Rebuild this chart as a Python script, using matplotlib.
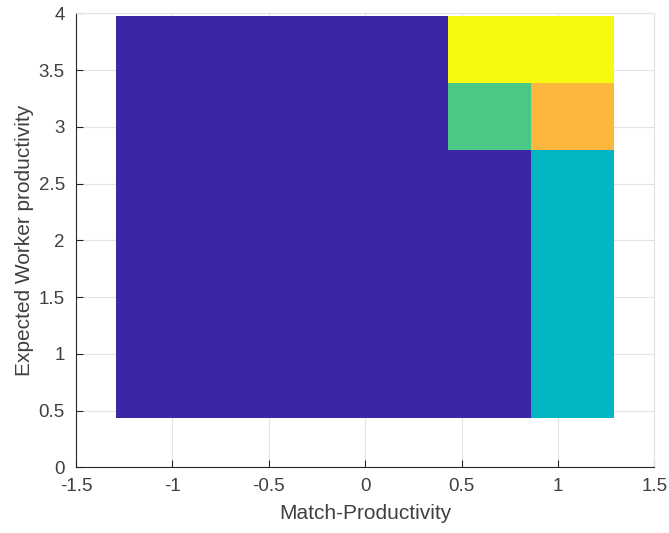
import numpy as np
import matplotlib
matplotlib.use("Agg")
import matplotlib.pyplot as plt
from matplotlib.colors import ListedColormap, BoundaryNorm

plt.rcParams['font.family'] = ['Liberation Sans', 'DejaVu Sans']

# cell edges (image grid)
x_edges = [-1.29, -0.86, -0.43, 0.0, 0.43, 0.86, 1.29]
y_edges = [0.437, 1.027, 1.617, 2.207, 2.797, 3.387, 3.977]

# region codes: 0 blue, 1 cyan, 2 green, 3 orange, 4 yellow (rows bottom->top)
regions = [
    [0, 0, 0, 0, 0, 1],
    [0, 0, 0, 0, 0, 1],
    [0, 0, 0, 0, 0, 1],
    [0, 0, 0, 0, 0, 1],
    [0, 0, 0, 0, 2, 3],
    [0, 0, 0, 0, 4, 4],
]
region_colors = ['#3c26a6', '#00b6c2', '#4ac886', '#fcb83c', '#f8f911']

x_ticks = [-1.5, -1, -0.5, 0, 0.5, 1, 1.5]
x_tick_labels = ['-1.5', '-1', '-0.5', '0', '0.5', '1', '1.5']
y_ticks = [0, 0.5, 1, 1.5, 2, 2.5, 3, 3.5, 4]
y_tick_labels = ['0', '0.5', '1', '1.5', '2', '2.5', '3', '3.5', '4']

fig = plt.figure(figsize=(6.69, 5.33), dpi=100)
ax = fig.add_axes([0.1136, 0.1233, 0.978 - 0.1136, 0.975 - 0.1233])

cmap = ListedColormap(region_colors)
norm = BoundaryNorm(np.arange(-0.5, len(region_colors) + 0.5, 1), cmap.N)
ax.pcolormesh(x_edges, y_edges, np.array(regions), cmap=cmap, norm=norm,
              shading='flat', zorder=2, edgecolors='none', antialiased=False)

ax.set_xlim(-1.5, 1.5)
ax.set_ylim(0, 4)
ax.set_xticks(x_ticks)
ax.set_xticklabels(x_tick_labels)
ax.set_yticks(y_ticks)
ax.set_yticklabels(y_tick_labels)

ax.grid(True, color='#e3e3e3', linewidth=0.8, zorder=0)
ax.set_axisbelow(True)

for s in ['left', 'bottom']:
    ax.spines[s].set_color('#262626')
    ax.spines[s].set_linewidth(0.8)
for s in ['top', 'right']:
    ax.spines[s].set_color('#e3e3e3')
    ax.spines[s].set_linewidth(0.8)

ax.tick_params(direction='in', length=5, width=0.8, colors='#262626',
               labelsize=13.5, labelcolor='#404040', top=False, right=False)
ax.tick_params(axis='x', pad=8)
ax.tick_params(axis='y', pad=8)

ax.set_xlabel('Match-Productivity', fontsize=15, color='#404040', labelpad=6)
ax.set_ylabel('Expected Worker productivity', fontsize=15, color='#404040', labelpad=3)

fig.savefig('out.png', dpi=100)
